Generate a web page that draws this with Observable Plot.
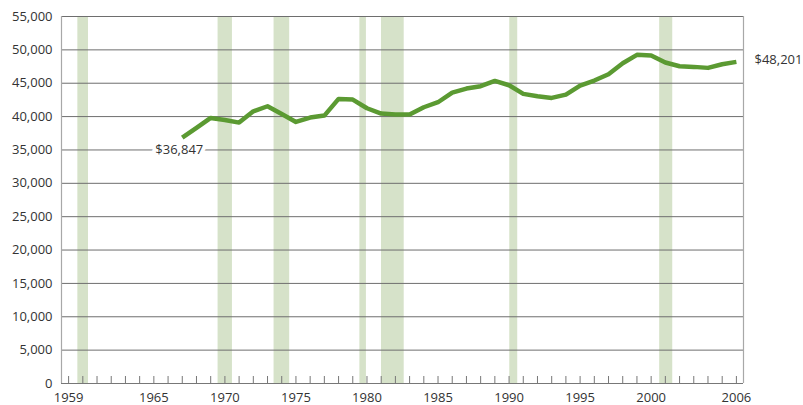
<!DOCTYPE html>
<html>
<head>
<meta charset="utf-8">
<script src="https://cdn.jsdelivr.net/npm/d3@7"></script>
<script src="https://cdn.jsdelivr.net/npm/@observablehq/plot@0.6"></script>
<style>
  html, body { margin: 0; padding: 0; background: #fff; }
  #chart svg { display: block; }
</style>
</head>
<body>
<div id="chart"></div>
<script>
// Real median household income (dollars), 1967–2006
const years = [1967,1968,1969,1970,1971,1972,1973,1974,1975,1976,1977,1978,1979,1980,1981,1982,1983,1984,1985,1986,1987,1988,1989,1990,1991,1992,1993,1994,1995,1996,1997,1998,1999,2000,2001,2002,2003,2004,2005,2006];
const income = [36847,38300,39800,39500,39100,40800,41550,40400,39200,39850,40150,42650,42550,41250,40450,40300,40300,41400,42150,43600,44200,44550,45350,44700,43400,43050,42800,43300,44650,45400,46350,48000,49250,49150,48100,47550,47450,47300,47850,48201];

// Recession periods (fractional years)
const recessionStart = [1960.15, 1970.02, 1973.96, 1980.0, 1981.52, 1990.55, 2001.1];
const recessionEnd   = [1960.90, 1971.03, 1975.06, 1980.46, 1983.12, 1991.11, 2002.02];

// Axis tick labels
const xTickLabels = [1959, 1965, 1970, 1975, 1980, 1985, 1990, 1995, 2000, 2006];
const yTicks = [0,5000,10000,15000,20000,25000,30000,35000,40000,45000,50000,55000];

// Annotations
const startLabel = "$36,847";
const endLabel = "$48,201";

const data = years.map((y, i) => ({year: y, income: income[i]}));
const recessions = recessionStart.map((s, i) => ({start: s, end: recessionEnd[i]}));
const allYears = d3.range(1959, 2007).map(y => y + 0.5);

const chart = Plot.plot({
  width: 803,
  height: 405,
  marginLeft: 61,
  marginRight: 60,
  marginTop: 16,
  marginBottom: 22,
  style: {fontFamily: "'Open Sans', sans-serif", fontSize: "13px", color: "#333", background: "#fff"},
  x: {domain: [1959, 2007]},
  y: {domain: [0, 55000]},
  marks: [
    Plot.rect(recessions, {x1: "start", x2: "end", fill: "#d6e2c9"}),
    Plot.gridY(yTicks, {stroke: "#6e6e6e", strokeOpacity: 1, strokeWidth: 1}),
    Plot.ruleX([1959, 2007], {stroke: "#a8a8a8", strokeWidth: 1.2}),
    Plot.ruleY([0], {stroke: "#777", strokeWidth: 1}),
    Plot.axisY(yTicks, {tickSize: 0, tickPadding: 9, tickFormat: d3.format(","), label: null, fill: "#333"}),
    Plot.axisX(allYears, {tickSize: 7, dy: -7, tickFormat: () => "", label: null, stroke: "#777"}),
    Plot.axisX(xTickLabels.map(y => y + 0.5), {tickSize: 0, tickPadding: 9, tickFormat: d => String(Math.floor(d)), label: null, fill: "#333"}),
    Plot.line(data, {x: d => d.year + 0.5, y: "income", stroke: "#5b9a32", strokeWidth: 4.5, strokeLinejoin: "round", strokeLinecap: "butt"}),
    Plot.text([{x: years[0] + 0.5, y: 35000, t: startLabel}], {x: "x", y: "y", text: "t", dx: -3, fill: "#333", stroke: "white", strokeWidth: 8, fontSize: 13}),
    Plot.text([{x: 2007, y: income[income.length - 1], t: endLabel}], {x: "x", y: "y", text: "t", textAnchor: "start", dx: 11, dy: -2, fill: "#333", fontSize: 13})
  ]
});
document.getElementById("chart").appendChild(chart);
</script>
</body>
</html>
